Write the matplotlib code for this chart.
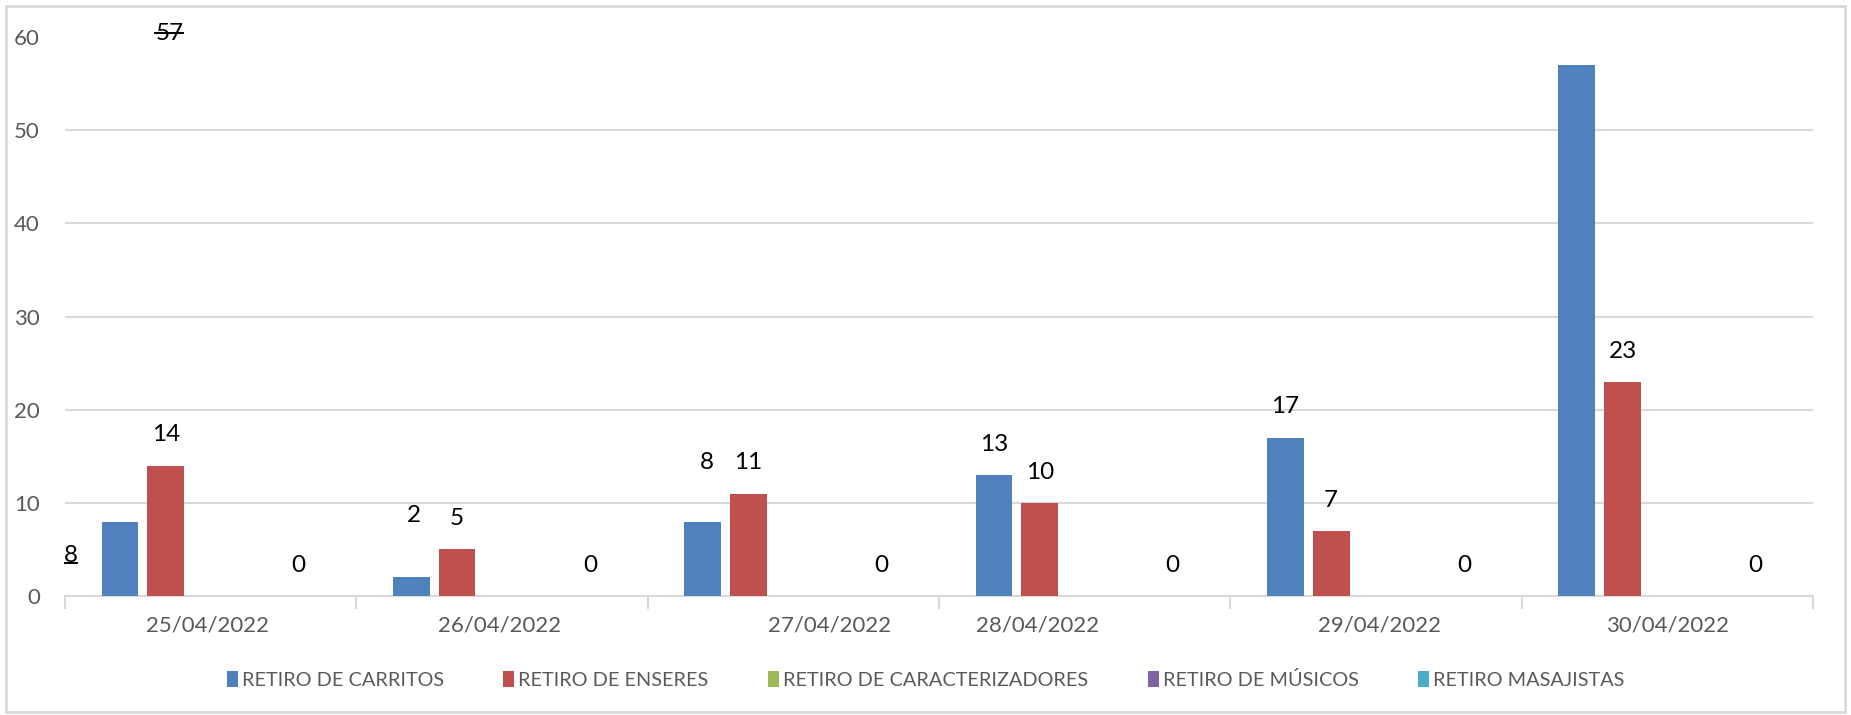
import numpy as np
import matplotlib.pyplot as plt
from matplotlib.lines import Line2D
from matplotlib.patches import Rectangle

plt.rcParams['font.family'] = ['Lato', 'DejaVu Sans']

# Retiros por día
fechas = ['25/04/2022', '26/04/2022', '27/04/2022', '28/04/2022', '29/04/2022', '30/04/2022']
series = ['RETIRO DE CARRITOS', 'RETIRO DE ENSERES', 'RETIRO DE CARACTERIZADORES',
          'RETIRO DE MÚSICOS', 'RETIRO MASAJISTAS']
carritos = [8, 2, 8, 13, 17, 57]
enseres = [14, 5, 11, 10, 7, 23]
caracterizadores = [0, 0, 0, 0, 0, 0]
musicos = [0, 0, 0, 0, 0, 0]
masajistas = [0, 0, 0, 0, 0, 0]
valores = [carritos, enseres, caracterizadores, musicos, masajistas]
colores = ['#4F81BD', '#C0504D', '#9BBB59', '#8064A2', '#4BACC6']

# which series get a visible label
con_etiqueta = [True, True, False, False, True]

fig = plt.figure(figsize=(18.51, 7.15), dpi=100)
ax = fig.add_axes([0.0351, 0.1664, 0.9444, 0.7816])

x = np.arange(len(fechas))
ancho = 0.126
paso = 0.157
desplaz = -0.311

barras = []
for k, (nombre, vals, col) in enumerate(zip(series, valores, colores)):
    b = ax.bar(x + desplaz + k * paso, vals, width=ancho, color=col, label=nombre, zorder=3)
    barras.append(b)

# data labels: default sits just above each bar, a few were dragged elsewhere
movidas = {(0, 0): (-0.48, 4.3), (0, 5): (-0.142, 60.4), (0, 1): (0.697, 8.6), (0, 2): (1.702, 14.3)}
textos = {}
for k, vals in enumerate(valores):
    if not con_etiqueta[k]:
        continue
    for i, v in enumerate(vals):
        if (k, i) in movidas:
            px, py = movidas[(k, i)]
        else:
            px, py = x[i] + desplaz + k * paso, v + 3.3
        if k == 4:
            px -= 0.015
        t = ax.text(px, py, str(v), ha='center', va='center', fontsize=17.5,
                    color='black', zorder=4, clip_on=False)
        textos[(k, i)] = t

ax.set_xlim(-0.5, len(fechas) - 0.5)
ax.set_ylim(0, 60)
ax.set_yticks(np.arange(0, 61, 10))
ax.yaxis.grid(True, color='#d9d9d9', linewidth=1.5, zorder=0)
ax.get_ygridlines()[-1].set_visible(False)
ax.set_axisbelow(True)
ax.tick_params(axis='y', length=0, pad=18, labelsize=16, labelcolor='#595959')

# category labels, two of them sit off-centre
pos_fechas = [x[0] - 0.012, x[1] - 0.01, x[2] + 0.126, x[3] - 0.163, x[4] + 0.012, x[5]]
ax.set_xticks(pos_fechas)
ax.set_xticklabels(fechas)
ax.tick_params(axis='x', which='major', length=0, pad=14, labelsize=16, labelcolor='#595959')
ax.set_xticks(np.arange(-0.5, len(fechas)), minor=True)
ax.tick_params(axis='x', which='minor', length=9, width=1.5, color='#d9d9d9')

for s in ['top', 'right', 'left']:
    ax.spines[s].set_visible(False)
ax.spines['bottom'].set_color('#d9d9d9')
ax.spines['bottom'].set_linewidth(1.5)

fig.legend(handles=barras, labels=series, loc='center', bbox_to_anchor=(0.5, 0.049),
           ncol=5, frameon=False, fontsize=14.3, handlelength=0.55, handleheight=0.8,
           handletextpad=0.2, columnspacing=3.0, labelcolor='#595959')

# chart border
fig.add_artist(Rectangle((0.003, 0.004), 0.994, 0.988, transform=fig.transFigure,
                         fill=False, edgecolor='#d9d9d9', linewidth=2))

# underline on the stray "8", strike through the stray "57"
fig.canvas.draw()
inv = fig.transFigure.inverted()
r = fig.canvas.get_renderer()
bb = textos[(0, 0)].get_window_extent(r)
(x0, y0), (x1, y1) = inv.transform([(bb.x0 + 1, bb.y0 + 3), (bb.x1 - 1, bb.y0 + 3)])
fig.add_artist(Line2D([x0, x1], [y0, y1], transform=fig.transFigure, color='black', linewidth=1.4))
bb = textos[(0, 5)].get_window_extent(r)
ym = bb.y0 + bb.height * 0.5
(x0, y0), (x1, y1) = inv.transform([(bb.x0, ym), (bb.x1, ym)])
fig.add_artist(Line2D([x0, x1], [y0, y1], transform=fig.transFigure, color='black', linewidth=1.4))

fig.savefig('out.png', dpi=100)
